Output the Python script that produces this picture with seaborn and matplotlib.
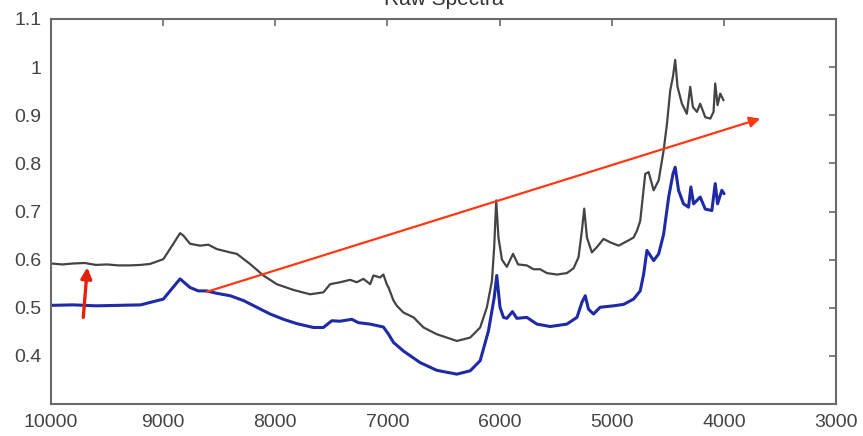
import matplotlib
matplotlib.use("Agg")
import matplotlib.pyplot as plt
import seaborn as sns
import pandas as pd

# ---- data ----
gray_x = [10000, 9900, 9800, 9700, 9600, 9500, 9400, 9300, 9200, 9117, 8998, 8909, 8849,
          8820, 8760, 8671, 8597, 8522, 8403, 8343, 8225, 8106, 7987, 7838, 7690, 7571,
          7511, 7422, 7333, 7273, 7214, 7154, 7125, 7065, 7036, 7006, 6990, 6946, 6916,
          6857, 6767, 6678, 6560, 6381, 6262, 6173, 6113, 6068, 6048, 6030, 6010, 5979,
          5950, 5935, 5880, 5835, 5757, 5697, 5638, 5578, 5489, 5400, 5340, 5296, 5266,
          5245, 5221, 5177, 5132, 5073, 5013, 4939, 4850, 4805, 4775, 4746, 4701, 4671,
          4626, 4581, 4537, 4507, 4478, 4454, 4434, 4413, 4374, 4330, 4300, 4276, 4240,
          4211, 4166, 4121, 4092, 4077, 4056, 4032, 4003]
gray_y = [0.592, 0.590, 0.592, 0.593, 0.589, 0.590, 0.588, 0.588, 0.589, 0.591, 0.601, 0.633,
          0.655, 0.650, 0.633, 0.629, 0.631, 0.622, 0.615, 0.612, 0.591, 0.567, 0.549, 0.537,
          0.528, 0.532, 0.549, 0.553, 0.558, 0.553, 0.560, 0.549, 0.567, 0.563, 0.569, 0.549,
          0.542, 0.515, 0.504, 0.490, 0.480, 0.459, 0.445, 0.431, 0.438, 0.459, 0.501, 0.556,
          0.626, 0.723, 0.646, 0.600, 0.590, 0.585, 0.612, 0.590, 0.588, 0.580, 0.580, 0.572,
          0.569, 0.572, 0.582, 0.605, 0.660, 0.706, 0.646, 0.615, 0.626, 0.643, 0.636, 0.629,
          0.640, 0.646, 0.660, 0.680, 0.778, 0.782, 0.744, 0.765, 0.827, 0.883, 0.952, 0.980,
          1.015, 0.959, 0.924, 0.903, 0.959, 0.917, 0.907, 0.924, 0.896, 0.893, 0.907, 0.966,
          0.921, 0.945, 0.931]

blue_x = [10000, 9800, 9600, 9400, 9200, 9117, 8998, 8924, 8849, 8760, 8686, 8612, 8522,
          8403, 8284, 8165, 8046, 7927, 7808, 7660, 7571, 7496, 7422, 7318, 7259, 7154,
          7036, 6990, 6946, 6857, 6708, 6560, 6381, 6262, 6173, 6099, 6048, 6025, 5996,
          5965, 5935, 5885, 5846, 5757, 5667, 5549, 5400, 5310, 5266, 5236, 5207, 5162,
          5103, 4984, 4894, 4805, 4746, 4715, 4686, 4626, 4581, 4537, 4492, 4454, 4434,
          4404, 4360, 4315, 4294, 4270, 4211, 4166, 4107, 4077, 4056, 4018, 3998]
blue_y = [0.505, 0.506, 0.504, 0.505, 0.506, 0.511, 0.518, 0.539, 0.560, 0.542, 0.535, 0.535,
          0.530, 0.525, 0.515, 0.501, 0.487, 0.476, 0.467, 0.459, 0.459, 0.473, 0.472, 0.476,
          0.469, 0.466, 0.460, 0.445, 0.428, 0.410, 0.386, 0.370, 0.362, 0.369, 0.390, 0.452,
          0.521, 0.567, 0.501, 0.480, 0.478, 0.492, 0.478, 0.480, 0.466, 0.461, 0.466, 0.480,
          0.511, 0.525, 0.497, 0.487, 0.501, 0.504, 0.507, 0.518, 0.535, 0.570, 0.619, 0.598,
          0.612, 0.653, 0.730, 0.778, 0.792, 0.744, 0.716, 0.709, 0.751, 0.716, 0.730, 0.705,
          0.702, 0.758, 0.716, 0.744, 0.737]

x_ticks = [10000, 9000, 8000, 7000, 6000, 5000, 4000, 3000]
y_ticks = [0.4, 0.5, 0.6, 0.7, 0.8, 0.9, 1.0, 1.1]
y_tick_labels = ["0.4", "0.5", "0.6", "0.7", "0.8", "0.9", "1", "1.1"]
title = "Raw Spectra"

# annotation arrows: (start_x, start_y, end_x, end_y)
long_arrow = (8612, 0.533, 3675, 0.893)
short_arrow = (9712, 0.480, 9676, 0.584)

# ---- plot ----
sns.set_style("white")
plt.rcParams["font.family"] = ["Liberation Sans", "DejaVu Sans"]

fig = plt.figure(figsize=(8.63, 4.36), dpi=100)
ax = fig.add_axes([51 / 863, 1 - 404 / 436, (836 - 51) / 863, (404 - 19) / 436])

df_gray = pd.DataFrame({"wavenumber": gray_x, "absorbance": gray_y})
df_blue = pd.DataFrame({"wavenumber": blue_x, "absorbance": blue_y})

sns.lineplot(data=df_gray, x="wavenumber", y="absorbance", sort=False, estimator=None,
             color="#444444", linewidth=1.6, ax=ax)
sns.lineplot(data=df_blue, x="wavenumber", y="absorbance", sort=False, estimator=None,
             color="#1f2aa6", linewidth=2.2, ax=ax)

ax.set_xlim(10000, 3000)
ax.set_ylim(0.3, 1.1)
ax.set_xticks(x_ticks)
ax.set_xticklabels([str(t) for t in x_ticks])
ax.set_yticks(y_ticks)
ax.set_yticklabels(y_tick_labels)
ax.set_xlabel("")
ax.set_ylabel("")
ax.set_title(title, fontsize=15, color="#333333", pad=10)

for s in ax.spines.values():
    s.set_visible(True)
    s.set_color("#6a6a6a")
    s.set_linewidth(1.5)
ax.tick_params(axis="both", direction="in", length=5, width=1.2, color="#6a6a6a",
               labelsize=14, labelcolor="#444444", top=True, right=True,
               labeltop=False, labelright=False)
ax.tick_params(axis="x", pad=7)
ax.tick_params(axis="y", pad=7)

ax.annotate("", xy=(long_arrow[2], long_arrow[3]), xytext=(long_arrow[0], long_arrow[1]),
            arrowprops=dict(arrowstyle="-|>", color="#ff3a12", lw=1.6, mutation_scale=16,
                            shrinkA=0, shrinkB=0))
ax.annotate("", xy=(short_arrow[2], short_arrow[3]), xytext=(short_arrow[0], short_arrow[1]),
            arrowprops=dict(arrowstyle="-|>", color="#e3200c", lw=2.4, mutation_scale=16,
                            shrinkA=0, shrinkB=0))

fig.savefig("out.png", dpi=100)
